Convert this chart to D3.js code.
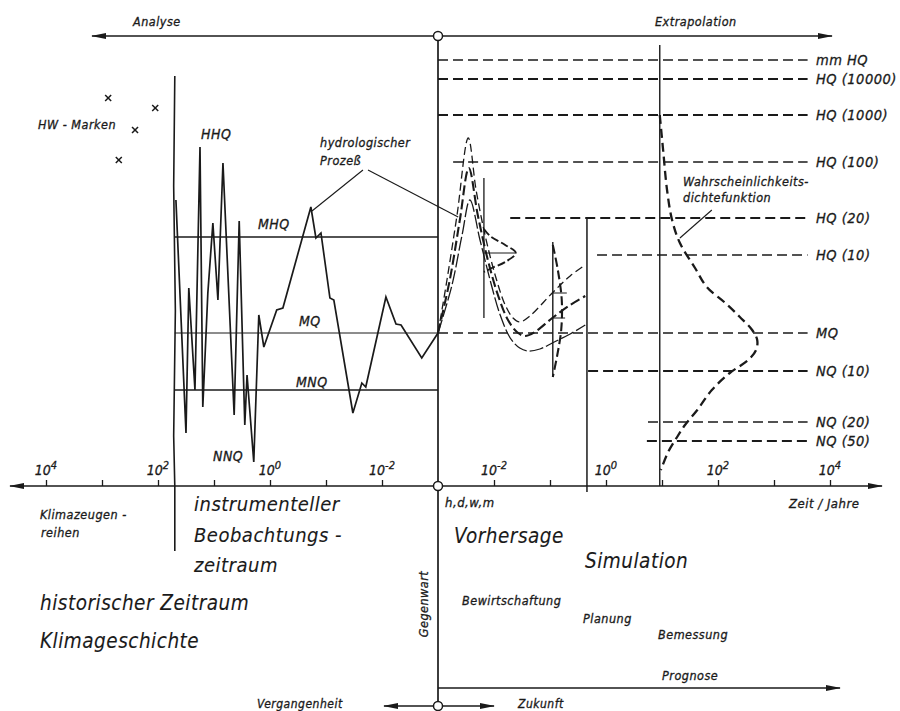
<!DOCTYPE html>
<html>
<head>
<meta charset="utf-8">
<script src="https://cdn.jsdelivr.net/npm/d3@7"></script>
<style>
body { margin: 0; background: #fff; }
text { font-family: "DejaVu Sans Condensed", "DejaVu Sans", sans-serif; font-style: italic; fill: #1a1a1a; stroke: #1a1a1a; stroke-width: 0.3; letter-spacing: 0.5px; }
text.big { stroke-width: 0.1; }
</style>
</head>
<body>
<script>

// time axis: u = signed decades from the present (past < 0 < future), 10^-3 years at u = 0
var majorTicks = [-7, -5, -3, -1, 1, 3, 5, 7];
var majorExp = ["4", "2", "0", "-2", "-2", "0", "2", "4"];
var minorTicks = [-6, -4, -2, 2, 4, 6];

// discharge levels (right side, extrapolation)
var levelNames = ["mm HQ", "HQ (10000)", "HQ (1000)", "HQ (100)", "HQ (20)", "HQ (10)", "MQ", "NQ (10)", "NQ (20)", "NQ (50)"];
var levelQ = [85.2, 81.4, 74.2, 64.8, 53.6, 46.2, 30.6, 23, 12.8, 9];
var levelStart = [0, 0, 0, 0.27, 1.29, 2.84, 0, 2.68, 3.75, 3.73];
var levelEnd = 6.6;

// main values of the observed period
var obsNames = ["MHQ", "MQ", "MNQ"];
var obsQ = [49.8, 30.6, 19.2];
var obsStart = -4.7;

// observed hydrograph (instrumental period)
var pastU = [-4.68, -4.5, -4.45, -4.34, -4.25, -4.2, -4.11, -4.02, -3.93, -3.84, -3.64, -3.55, -3.45, -3.41, -3.29,
  -3.2, -3.11, -2.88, -2.77, -2.27, -2.18, -2.09, -1.93, -1.86, -1.52, -1.36, -1.29, -0.93, -0.75, -0.66, -0.29, 0];
var pastQ = [57.2, 10.6, 39.6, 19.2, 67.8, 15.8, 38.6, 52.6, 37.2, 64.6, 14.2, 53, 12.2, 22.2, 4.8,
  34.2, 27.8, 35.2, 35.6, 55.8, 49.6, 50.6, 37.6, 37.2, 14.6, 20.6, 19.8, 37.8, 32.4, 32.2, 25.6, 30.6];

// historic flood marks
var markU = [-5.89, -5.05, -5.41, -5.7];
var markQ = [77.6, 75.6, 71.2, 65.2];

// forecast hydrographs
var fcU1 = [0, 0.16, 0.34, 0.54, 0.68, 0.84, 1.02, 1.2, 1.34, 1.46, 1.64, 2.04, 2.36, 2.63];
var fcQ1 = [30.6, 41.2, 54.2, 69.6, 59.2, 50.2, 42.2, 36.2, 33.6, 32.8, 34, 38.6, 42, 44.2];
var fcU2 = [0, 0.21, 0.39, 0.55, 0.71, 0.89, 1.07, 1.25, 1.41, 1.55, 1.73, 2.04, 2.36, 2.63];
var fcQ2 = [30.6, 41.2, 53.2, 63.6, 54.2, 45.2, 38.2, 33.2, 30.8, 30, 30.8, 33.6, 36.2, 38];
var fcU3 = [0, 0.25, 0.43, 0.57, 0.75, 0.93, 1.11, 1.29, 1.46, 1.61, 1.82, 2.04, 2.36, 2.63];
var fcQ3 = [30.6, 40.2, 50.2, 57.2, 49.2, 41.2, 34.2, 29.6, 27.6, 27, 27.4, 28.6, 30.4, 32.2];

// small spread curves on the forecasts
var peakU = [0.82, 0.93, 1.2, 1.39, 1.2, 0.96, 0.82];
var peakQ = [51.4, 50, 48.2, 46.6, 44.8, 43.6, 42.8];
var lensU = [2.05, 2.14, 2.21, 2.2, 2.13, 2.05];
var lensQ = [48.2, 43.2, 37.2, 31.2, 26.2, 21.8];

// probability density (HQ/NQ) drawn along the 10^1 line
var densU = [3.96, 4.02, 4.09, 4.18, 4.32, 4.59, 4.8, 5.13, 5.39, 5.61, 5.7, 5.68, 5.54, 5.21, 4.89, 4.63, 4.41, 4.27, 4.11, 3.98];
var densQ = [74.2, 67.2, 59.2, 53.2, 48.6, 43.6, 39.8, 36.6, 33.8, 31.2, 29.2, 27.2, 25.2, 22.6, 19.2, 15.2, 12.2, 9.8, 6.8, 3.2];

var width = 900, height = 711;
var ink = "#1a1a1a";

var x = d3.scaleLinear().domain([-7, 7]).range([46, 830]);
var y = d3.scaleLinear().domain([0, 90]).range([486, 36]);

var svg = d3.select("body").append("svg")
    .attr("width", width)
    .attr("height", height);

svg.append("rect").attr("width", width).attr("height", height).attr("fill", "#fff");

// arrow head
svg.append("defs").append("marker")
    .attr("id", "arr")
    .attr("markerUnits", "userSpaceOnUse")
    .attr("markerWidth", 16).attr("markerHeight", 8)
    .attr("refX", 14).attr("refY", 4)
    .attr("orient", "auto")
    .append("path")
    .attr("d", "M0,1 L15,4 L0,7 Z")
    .attr("fill", ink);

var line = d3.line().x(function (d) { return x(d[0]); }).y(function (d) { return y(d[1]); });
function pairs(u, q) { return u.map(function (v, i) { return [v, q[i]]; }); }

function seg(x1, y1, x2, y2, w, dash) {
    var l = svg.append("line")
        .attr("x1", x1).attr("y1", y1).attr("x2", x2).attr("y2", y2)
        .attr("stroke", ink).attr("stroke-width", w || 1.3);
    if (dash) l.attr("stroke-dasharray", dash);
    return l;
}
function arrow(x1, y1, x2, y2, w) {
    return seg(x1, y1, x2, y2, w).attr("marker-end", "url(#arr)");
}
function label(tx, ty, s, size, anchor) {
    var t = svg.append("text").attr("x", tx).attr("y", ty)
        .attr("font-size", size).attr("text-anchor", anchor || "start").text(s);
    if (size >= 20) t.attr("class", "big");
    return t;
}

// ---- axes -------------------------------------------------------------
var x0 = x(0), y0 = y(0);

arrow(x0, y0, 10, y0, 1.5);
arrow(x0, y0, 882, y0, 1.5);

svg.append("g")
    .attr("transform", "translate(0," + y0 + ")")
    .call(d3.axisTop(x).tickValues(majorTicks.concat(minorTicks)).tickSize(6).tickFormat(""))
    .call(function (g) { g.select(".domain").remove(); })
    .selectAll("line").attr("stroke", ink).attr("stroke-width", 1.3);

majorTicks.forEach(function (t, i) {
    var tx = svg.append("text")
        .attr("x", x(t)).attr("y", y0 - 11)
        .attr("font-size", 14).attr("text-anchor", "middle")
        .style("letter-spacing", "0px");
    tx.append("tspan").text("10");
    tx.append("tspan").attr("dy", -6).attr("font-size", 11).text(majorExp[i]);
});

// present: vertical line with circles
seg(x0, y(90), x0, 706, 1.7);
arrow(x0, y(90), 92, y(90), 1.4);
arrow(x0, y(90), 832, y(90), 1.4);
arrow(x0, 706, 384, 706, 1.4);
arrow(x0, 706, 494, 706, 1.4);
arrow(x0, 688, 840, 688, 1.4);
[y(90), y0, 706].forEach(function (cy) {
    svg.append("circle").attr("cx", x0).attr("cy", cy).attr("r", 4.5)
        .attr("fill", "#fff").attr("stroke", ink).attr("stroke-width", 1.5);
});

// ---- boundaries -------------------------------------------------------
svg.append("path")
    .attr("d", line([[-4.7, 82], [-4.72, 60], [-4.69, 35], [-4.72, 10], [-4.7, 0]]) + " L" + x(-4.7) + ",551")
    .attr("fill", "none").attr("stroke", ink).attr("stroke-width", 1.6);
seg(x(2.66), y(53.6), x(2.66), y0 + 6, 1.5);
seg(x(3.96), y(88.2), x(3.96), y0, 1.4);

// ---- observed period --------------------------------------------------
obsNames.forEach(function (n, i) {
    seg(x(obsStart), y(obsQ[i]), x0, y(obsQ[i]), n == "MQ" ? 1 : 1.6);
});

svg.append("path")
    .datum(pairs(pastU, pastQ))
    .attr("d", line)
    .attr("fill", "none").attr("stroke", ink).attr("stroke-width", 1.7)
    .attr("stroke-linejoin", "miter");

pairs(markU, markQ).forEach(function (d) {
    var cx = x(d[0]), cy = y(d[1]);
    seg(cx - 3, cy - 3, cx + 3, cy + 3, 1.5);
    seg(cx - 3, cy + 3, cx + 3, cy - 3, 1.5);
});

// ---- extrapolation levels ---------------------------------------------
var boldLevels = { "HQ (10000)": 1, "HQ (1000)": 1, "HQ (20)": 1, "NQ (10)": 1, "NQ (50)": 1 };
levelNames.forEach(function (n, i) {
    seg(x(levelStart[i]), y(levelQ[i]), x(levelEnd), y(levelQ[i]), boldLevels[n] ? 1.8 : 1.3, "10,5");
    label(816, y(levelQ[i]) + 5, n, 14.5);
});

// ---- forecasts --------------------------------------------------------
var fcLine = d3.line().x(function (d) { return x(d[0]); }).y(function (d) { return y(d[1]); })
    .curve(d3.curveCatmullRom.alpha(0.5));

svg.append("path").datum(pairs(fcU1, fcQ1)).attr("d", fcLine)
    .attr("fill", "none").attr("stroke", ink).attr("stroke-width", 1.3).attr("stroke-dasharray", "8,4");
svg.append("path").datum(pairs(fcU2, fcQ2)).attr("d", fcLine)
    .attr("fill", "none").attr("stroke", ink).attr("stroke-width", 2.1).attr("stroke-dasharray", "10,4");
svg.append("path").datum(pairs(fcU3, fcQ3)).attr("d", fcLine)
    .attr("fill", "none").attr("stroke", ink).attr("stroke-width", 1.3).attr("stroke-dasharray", "14,3");

// spread at the peak
seg(x(0.82), y(61.6), x(0.82), y(33.6), 1.3);
seg(x(0.82), y(46.6), x(1.39), y(46.6), 1);
svg.append("path").datum(pairs(peakU, peakQ)).attr("d", fcLine)
    .attr("fill", "none").attr("stroke", ink).attr("stroke-width", 1.9).attr("stroke-dasharray", "8,3");

// spread later on
seg(x(2.05), y(48.8), x(2.05), y(21.8), 1.4);
seg(x(2.05), y(38.6), x(2.3), y(38.6), 1);
seg(x(2.05), y(33.6), x(2.27), y(33.6), 1);
svg.append("path").datum(pairs(lensU, lensQ)).attr("d", fcLine)
    .attr("fill", "none").attr("stroke", ink).attr("stroke-width", 2.1).attr("stroke-dasharray", "9,4");

// density function
svg.append("path").datum(pairs(densU, densQ)).attr("d", fcLine)
    .attr("fill", "none").attr("stroke", ink).attr("stroke-width", 2.3).attr("stroke-dasharray", "9,5");

// leader lines
svg.append("path").attr("d", line([[-1.34, 63.2], [-2.25, 55]])).attr("stroke", ink).attr("fill", "none").attr("stroke-width", 1.1);
svg.append("path").attr("d", line([[-1.25, 63.2], [0.36, 53.8]])).attr("stroke", ink).attr("fill", "none").attr("stroke-width", 1.1);
svg.append("path").attr("d", line([[4.89, 55.2], [4.32, 49.6]])).attr("stroke", ink).attr("fill", "none").attr("stroke-width", 1.1);

// ---- texts ------------------------------------------------------------
label(133, 26, "Analyse", 12.5);
label(655, 26, "Extrapolation", 12.5);
label(38, 129, "HW - Marken", 12.5);
label(201, 139, "HHQ", 14);
label(258, 229, "MHQ", 14);
label(299, 326, "MQ", 14);
label(296, 387, "MNQ", 14);
label(213, 461, "NNQ", 14);
label(320, 147, "hydrologischer", 12.5);
label(320, 165, "Prozeß", 12.5);
label(683, 186, "Wahrscheinlichkeits-", 12.5);
label(683, 202, "dichtefunktion", 12.5);

label(40, 519, "Klimazeugen -", 12.5);
label(41, 537, "reihen", 12.5);
label(194, 511, "instrumenteller", 20);
label(194, 542, "Beobachtungs -", 20);
label(194, 572, "zeitraum", 20);
label(40, 610, "historischer Zeitraum", 20.5);
label(40, 648, "Klimageschichte", 20.5);
svg.append("text").attr("transform", "translate(428,604) rotate(-90)")
    .attr("font-size", 12.5).attr("text-anchor", "middle").text("Gegenwart");
label(257, 708, "Vergangenheit", 12);
label(518, 708, "Zukunft", 12);

label(445, 507, "h,d,w,m", 13);
label(789, 508, "Zeit / Jahre", 13);
label(454, 543, "Vorhersage", 20.5);
label(585, 568, "Simulation", 20.5);
label(462, 605, "Bewirtschaftung", 12.5);
label(583, 623, "Planung", 12.5);
label(658, 639, "Bemessung", 12.5);
label(662, 680, "Prognose", 12.5);

</script>
</body>
</html>
